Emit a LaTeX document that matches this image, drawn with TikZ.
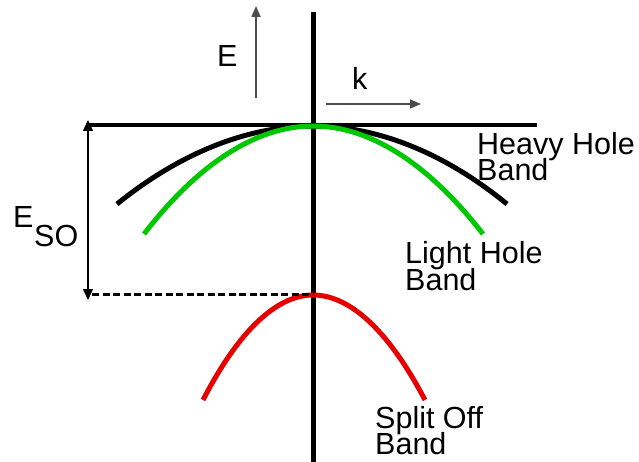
\documentclass[tikz,border=0pt]{standalone}
\usepackage{fontspec}
\setmainfont{Liberation Sans}
\usetikzlibrary{arrows.meta}
\begin{document}
\begin{tikzpicture}[x=1pt,y=-1pt,
  lbl/.style={inner sep=0pt,anchor=base west,font=\fontsize{30.5}{26}\selectfont},
  thinarrow/.style={line width=1.5pt,-{Triangle[length=11pt,width=9pt]}},
  band/.style={line width=5pt}]
\useasboundingbox (0,0) rectangle (639,462);
% axes
\coordinate (vtop) at (313,12);
\coordinate (vbot) at (313,462);
\draw[line width=5pt] (vtop) -- (vbot);
\coordinate (hl) at (86,125);
\coordinate (hr) at (537,125);
\draw[line width=4pt] (hl) -- (hr);
% E and k arrows
\coordinate (ea) at (256,98);
\coordinate (eb) at (256,6);
\draw[thinarrow,draw=black!70,fill=black] (ea) -- (eb);
\node[lbl] (Elab) at (217,67) {E};
\coordinate (ka) at (326,104);
\coordinate (kb) at (421,104);
\draw[thinarrow,draw=black!70,fill=black] (ka) -- (kb);
\node[lbl] (klab) at (352,90) {k};
% bands
\coordinate (hhl) at (117,204);
\coordinate (top) at (313,126);
\coordinate (hhr) at (507,204);
\draw[band,black] (hhl) parabola bend (top) (hhr);
\coordinate (lhl) at (144,234);
\coordinate (lhr) at (483,234);
\draw[band,draw={rgb,255:red,0;green,200;blue,0}] (lhl) parabola bend (top) (lhr);
\coordinate (sol) at (203,400);
\coordinate (sotop) at (313,295);
\coordinate (sor) at (425,400);
\draw[band,draw={rgb,255:red,230;green,0;blue,0}] (sol) parabola bend (sotop) (sor);
% E_SO
\coordinate (soa) at (88,120);
\coordinate (sob) at (88,300);
\draw[line width=1.5pt,{Triangle[length=11pt,width=10pt]}-{Triangle[length=11pt,width=10pt]}] (soa) -- (sob);
\coordinate (dl) at (92,294);
\coordinate (dr) at (313,294);
\draw[line width=3pt,dash pattern=on 7pt off 3.5pt] (dl) -- (dr);
\node[lbl] (Eso) at (13,228) {E};
\node[lbl] (SO) at (34,247) {SO};
% labels
\node[lbl] (hh1) at (477,155) {Heavy Hole};
\node[lbl] (hh2) at (477,181) {Band};
\node[lbl] (lh1) at (405,263) {Light Hole};
\node[lbl] (lh2) at (405,290) {Band};
\node[lbl] (so1) at (375,428) {Split Off};
\node[lbl] (so2) at (375,454) {Band};
\end{tikzpicture}
\end{document}
